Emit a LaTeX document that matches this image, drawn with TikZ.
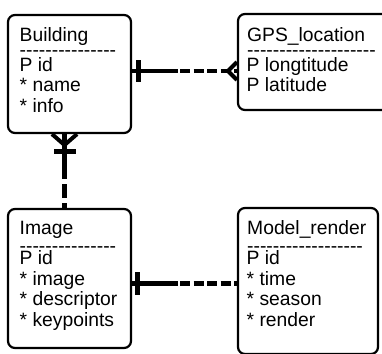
\documentclass[tikz,border=0pt]{standalone}
\usepackage{fontspec}
\setmainfont{Liberation Sans}
\newcommand{\hyrow}[1]{\foreach \k in {1,...,#1}{-{}}}
\begin{document}
\begin{tikzpicture}[x=1pt,y=-1pt,
  entity/.style={draw=black, line width=2.2pt, rounded corners=7pt, fill=white, inner sep=0pt, minimum width=#1},
  txt/.style={anchor=base west, inner sep=0pt, font=\fontsize{19.3}{20}\selectfont},
  conn/.style={line width=4.5pt, black},
  dsh/.style={conn, dash pattern=on 10pt off 3.5pt},
  vdsh/.style={conn, dash pattern=on 14pt off 5pt},
  barline/.style={line width=5pt, black},
  crow/.style={line width=4pt, black}]
\useasboundingbox (0,0) rectangle (382,353);
\clip (0,0) rectangle (382,353);
\fill[white] (0,0) rectangle (382,353);

% entity boxes
\node[entity=123pt, minimum height=118pt] (bld) at (69.5,74) {};
\node[entity=162pt, minimum height=96pt] (gps) at (319,62) {};
\node[entity=123pt, minimum height=139pt] (img) at (69.5,278.5) {};
\node[entity=140pt, minimum height=146pt] (mdl) at (308,281) {};

% Building texts
\node[txt] (b0) at (19.5,41.7) {Building};
\node[txt] (b1) at (19.5,56.9) {-{}-{}-{}-{}-{}-{}-{}-{}-{}-{}-{}-{}-{}-{}-{}};
\node[txt] (b2) at (19.5,71) {P id};
\node[txt] (b3) at (19.5,91.7) {* name};
\node[txt] (b4) at (19.5,112.5) {* info};

% GPS texts
\node[txt] (g0) at (247,41.7) {GPS\_location};
\node[txt] (g1) at (247,56.9) {-{}-{}-{}-{}-{}-{}-{}-{}-{}-{}-{}-{}-{}-{}-{}-{}-{}-{}-{}-{}};
\node[txt] (g2) at (246.5,71) {P longtitude};
\node[txt] (g3) at (246.5,91.7) {P latitude};

% Image texts
\node[txt] (i0) at (19.5,234.3) {Image};
\node[txt] (i1) at (19.5,252.5) {-{}-{}-{}-{}-{}-{}-{}-{}-{}-{}-{}-{}-{}-{}-{}};
\node[txt] (i2) at (19.5,264) {P id};
\node[txt] (i3) at (19.5,285) {* image};
\node[txt] (i4) at (19.5,305.7) {* descriptor};
\node[txt] (i5) at (19.5,326.5) {* keypoints};

% Model_render texts
\node[txt] (m0) at (247,234.3) {Model\_render};
\node[txt] (m1) at (247,252.5) {-{}-{}-{}-{}-{}-{}-{}-{}-{}-{}-{}-{}-{}-{}-{}-{}-{}-{}};
\node[txt] (m2) at (246.5,264) {P id};
\node[txt] (m3) at (246.5,285) {* time};
\node[txt] (m4) at (246.5,305.7) {* season};
\node[txt] (m5) at (246.5,326.5) {* render};

% helper coordinates
\coordinate (ya) at (0,71);
\coordinate (yb) at (0,283.5);
\coordinate (xv) at (64.5,0);

% Building -- GPS
\coordinate (s1) at (178,71);
\coordinate (d1) at (180,71);
\coordinate (t1) at (228,71);
\draw[conn] (bld.east |- ya) -- (s1);
\draw[dsh] (d1) -- (gps.west |- ya);
\draw[barline] (138,60) -- (138,82);
\draw[crow] ([yshift=-9pt]gps.west |- ya) -- (t1) -- ([yshift=9pt]gps.west |- ya);

% Image -- Model_render
\coordinate (s2) at (178,283.5);
\coordinate (d2) at (180,283.5);
\draw[conn] (img.east |- yb) -- (s2);
\draw[dsh] (d2) -- (mdl.west |- yb);
\draw[barline] (137,272) -- (137,295);

% Building -- Image
\coordinate (s3) at (64.5,179);
\coordinate (d3) at (64.5,184);
\coordinate (t3) at (64.5,145);
\draw[conn] (bld.south -| xv) -- (s3);
\draw[vdsh] (d3) -- (img.north -| xv);
\draw[barline] (54,151) -- (76,151);
\draw[crow] ([xshift=-12.5pt]bld.south -| xv) -- (t3) -- ([xshift=12.5pt]bld.south -| xv);
\end{tikzpicture}
\end{document}
